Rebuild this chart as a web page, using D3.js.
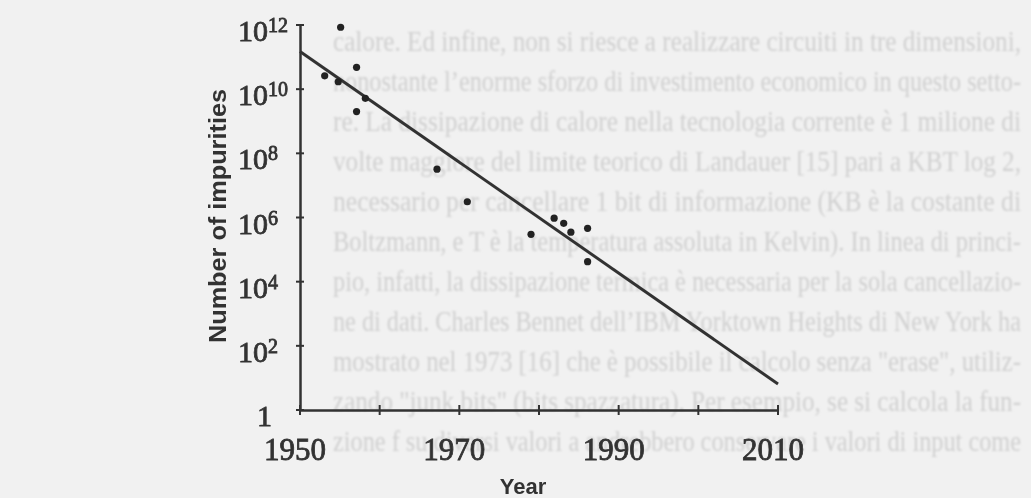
<!DOCTYPE html>
<html>
<head>
<meta charset="utf-8">
<script src="https://cdn.jsdelivr.net/npm/d3@7"></script>
<style>
  html, body { margin: 0; padding: 0; background: #f1f1f1; }
  svg { display: block; }
</style>
</head>
<body>
<div id="chart"></div>
<script>
// measured points (year, number of impurities)
const years = [1955.1, 1957.1, 1953.1, 1954.8, 1958.2, 1957.1, 1967.2, 1971.0, 1979.0, 1981.9, 1983.1, 1984.0, 1986.1, 1986.1];
const impurities = [8.5e11, 4.8e10, 2.6e10, 1.7e10, 5.2e9, 2.0e9, 3.2e7, 3.1e6, 3.0e5, 9.5e5, 6.6e5, 3.5e5, 4.6e5, 4.2e4];

// fitted trend line
const fitYears = [1950, 2010];
const fitValues = [1.5e11, 6.5];

const xTicks = [1950, 1960, 1970, 1980, 1990, 2000, 2010];
const xLabels = [1950, 1970, 1990, 2010];
const yTicks = [1, 1e2, 1e4, 1e6, 1e8, 1e10, 1e12];

// show-through text of the scanned page
const pageLines = [
  'calore. Ed infine, non si riesce a realizzare circuiti in tre dimensioni,',
  'nonostante l\u2019enorme sforzo di investimento economico in questo setto-',
  're. La dissipazione di calore nella tecnologia corrente è 1 milione di',
  'volte maggiore del limite teorico di Landauer [15] pari a KBT log 2,',
  'necessario per cancellare 1 bit di informazione (KB è la costante di',
  'Boltzmann, e T è la temperatura assoluta in Kelvin). In linea di princi-',
  'pio, infatti, la dissipazione termica è necessaria per la sola cancellazio-',
  'ne di dati. Charles Bennet dell\u2019IBM Yorktown Heights di New York ha',
  'mostrato nel 1973 [16] che è possibile il calcolo senza "erase", utiliz-',
  'zando "junk bits" (bits spazzatura). Per esempio, se si calcola la fun-',
  'zione f su diversi valori a andrebbero conservare i valori di input come'
];

const width = 1031;
const height = 498;

const svg = d3.select('#chart')
  .append('svg')
  .attr('width', width)
  .attr('height', height);

const defs = svg.append('defs');
defs.append('filter').attr('id', 'soft')
  .append('feGaussianBlur').attr('stdDeviation', 0.7);
defs.append('filter').attr('id', 'softer')
  .append('feGaussianBlur').attr('stdDeviation', 1.1);

svg.append('rect')
  .attr('width', width)
  .attr('height', height)
  .attr('fill', '#f1f1f1');

// background page text
svg.append('g')
  .attr('filter', 'url(#softer)')
  .selectAll('text')
  .data(pageLines)
  .enter()
  .append('text')
  .attr('x', 333)
  .attr('y', (d, i) => 51 + i * 40)
  .attr('textLength', 688)
  .attr('lengthAdjust', 'spacingAndGlyphs')
  .attr('font-family', 'Liberation Serif, serif')
  .attr('font-size', 29)
  .attr('fill', '#d0d0d0')
  .text(d => d);

const x = d3.scaleLinear()
  .domain([1950, 2010])
  .range([300, 778]);

const y = d3.scaleLog()
  .domain([1, 1e12])
  .range([410, 25]);

const g = svg.append('g')
  .attr('filter', 'url(#soft)');

const ink = '#333';

// y axis
const yAxis = g.append('g')
  .attr('transform', `translate(${x(1950)},0)`)
  .call(d3.axisLeft(y).tickValues(yTicks).tickSize(0).tickFormat(''));
yAxis.select('.domain').attr('stroke', ink).attr('stroke-width', 2.5);

g.selectAll('.ytick')
  .data(yTicks)
  .enter()
  .append('line')
  .attr('class', 'ytick')
  .attr('x1', x(1950) - 4)
  .attr('x2', x(1950) + 4)
  .attr('y1', d => y(d))
  .attr('y2', d => y(d))
  .attr('stroke', ink)
  .attr('stroke-width', 2);

// x axis
const xAxis = g.append('g')
  .attr('transform', `translate(0,${y(1)})`)
  .call(d3.axisBottom(x).tickValues(xTicks).tickSize(0).tickFormat(''));
xAxis.select('.domain').attr('stroke', ink).attr('stroke-width', 2.5);

g.selectAll('.xtick')
  .data(xTicks)
  .enter()
  .append('line')
  .attr('class', 'xtick')
  .attr('x1', d => x(d))
  .attr('x2', d => x(d))
  .attr('y1', y(1) - 5)
  .attr('y2', y(1) + 5)
  .attr('stroke', ink)
  .attr('stroke-width', 2);

// tick labels
g.selectAll('.xlabel')
  .data(xLabels)
  .enter()
  .append('text')
  .attr('class', 'xlabel')
  .attr('x', d => x(d) - 5)
  .attr('y', 460)
  .attr('text-anchor', 'middle')
  .attr('font-family', 'Liberation Serif, serif')
  .attr('font-size', 31)
  .attr('fill', ink)
  .attr('stroke', ink)
  .attr('stroke-width', 0.8)
  .text(d => d);

const yLab = g.selectAll('.ylabel')
  .data(yTicks)
  .enter()
  .append('text')
  .attr('class', 'ylabel')
  .attr('x', 238)
  .attr('y', d => y(d) + 16)
  .attr('font-family', 'Liberation Serif, serif')
  .attr('font-size', 30)
  .attr('fill', ink)
  .attr('stroke', ink)
  .attr('stroke-width', 0.8);

yLab.filter(d => d === 1)
  .attr('x', 257)
  .text('1');

yLab.filter(d => d !== 1)
  .each(function(d) {
    const t = d3.select(this);
    t.append('tspan').text('10');
    t.append('tspan')
      .attr('dy', -9)
      .attr('font-size', 20)
      .text(Math.round(Math.log10(d)));
  });

// axis titles
g.append('text')
  .attr('transform', 'translate(226,216) rotate(-90)')
  .attr('text-anchor', 'middle')
  .attr('font-family', 'Liberation Sans, Arial, sans-serif')
  .attr('font-weight', 'bold')
  .attr('font-size', 23)
  .attr('textLength', 254)
  .attr('lengthAdjust', 'spacingAndGlyphs')
  .attr('fill', ink)
  .text('Number of impurities');

g.append('text')
  .attr('x', 523)
  .attr('y', 494)
  .attr('text-anchor', 'middle')
  .attr('font-family', 'Liberation Sans, Arial, sans-serif')
  .attr('font-weight', 'bold')
  .attr('font-size', 22)
  .attr('fill', ink)
  .text('Year');

// trend line
const line = d3.line()
  .x(d => x(d[0]))
  .y(d => y(d[1]));

g.append('path')
  .datum(d3.zip(fitYears, fitValues))
  .attr('d', line)
  .attr('fill', 'none')
  .attr('stroke', ink)
  .attr('stroke-width', 3);

// points
g.selectAll('.pt')
  .data(d3.zip(years, impurities))
  .enter()
  .append('circle')
  .attr('class', 'pt')
  .attr('cx', d => x(d[0]))
  .attr('cy', d => y(d[1]))
  .attr('r', 3.6)
  .attr('fill', '#222');
</script>
</body>
</html>
